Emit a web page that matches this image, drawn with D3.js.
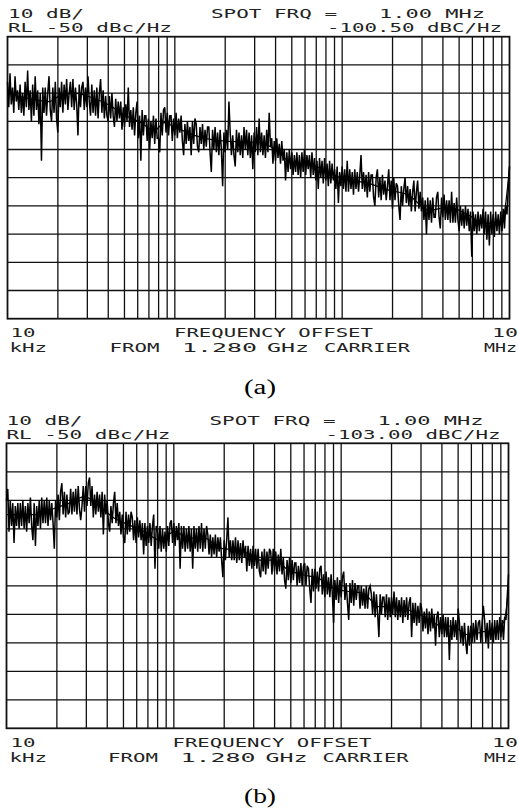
<!DOCTYPE html>
<html>
<head>
<meta charset="utf-8">
<script src="https://cdn.jsdelivr.net/npm/d3@7"></script>
<style>
  body { margin: 0; background: #fff; }
  text { white-space: pre; }
</style>
</head>
<body>
<div id="chart"></div>
<script>
// ---- data ----
// frequency span of the sweep (Hz) and the dB grid
const span_hz = [1e4, 1e7];
const db_ticks = [-50, -60, -70, -80, -90, -100, -110, -120, -130, -140, -150];
const freq_grid = [2e4,3e4,4e4,5e4,6e4,7e4,8e4,9e4,1e5,2e5,3e5,4e5,5e5,6e5,7e5,8e5,9e5,1e6,2e6,3e6,4e6,5e6,6e6,7e6,8e6,9e6];

// panel labels and spot readouts
const panel_names = ["(a)", "(b)"];
const spot_values = ["-100.50", "-103.00"];

// raw trace (a), dBc/Hz, 400 log-spaced points from 10 kHz to 10 MHz
const trace_a = [
  -66,-75,-63,-74,-68,-77,-64,-73,-69,-76,
  -67,-77,-70,-78,-66,-75,-62,-76,-69,-80,
  -67,-78,-64,-76,-69,-81,-70,-94,-68,-77,
  -68,-78,-70,-64,-76,-80,-68,-77,-66,-79,
  -84,-68,-75,-66,-77,-67,-74,-65,-76,-70,
  -66,-75,-65,-76,-68,-74,-85,-67,-75,-68,
  -66,-76,-68,-75,-64,-73,-78,-67,-77,-69,
  -78,-68,-79,-70,-65,-77,-69,-79,-71,-78,
  -80,-71,-79,-70,-78,-82,-72,-80,-73,-79,
  -73,-83,-75,-82,-74,-80,-68,-82,-76,-83,
  -75,-85,-77,-73,-86,-78,-94,-76,-85,-78,
  -78,-87,-79,-90,-80,-86,-78,-88,-79,-86,
  -86,-91,-77,-85,-76,-75,-84,-77,-85,-78,
  -78,-87,-79,-85,-77,-86,-79,-84,-78,-87,
  -92,-81,-88,-80,-87,-82,-92,-80,-88,-79,
  -81,-89,-91,-82,-88,-81,-90,-83,-89,-82,
  -82,-91,-98,-83,-90,-82,-91,-84,-92,-83,
  -90,-103,-84,-91,-83,-90,-73,-84,-92,-85,
  -92,-96,-83,-91,-84,-92,-85,-93,-82,-90,
  -83,-92,-84,-93,-85,-97,-84,-91,-82,-92,
  -79,-91,-84,-92,-85,-93,-83,-91,-77,-89,
  -86,-95,-87,-94,-86,-93,-88,-95,-87,-94,
  -90,-101,-91,-98,-90,-97,-91,-99,-92,-98,
  -91,-99,-92,-100,-91,-98,-90,-99,-92,-97,
  -92,-100,-91,-99,-93,-101,-94,-104,-93,-100,
  -94,-102,-93,-101,-95,-103,-94,-102,-95,-101,
  -97,-104,-96,-109,-98,-103,-96,-104,-97,-105,
  -94,-105,-97,-104,-98,-106,-97,-104,-98,-105,
  -99,-92,-104,-98,-105,-99,-107,-98,-105,-99,
  -99,-107,-110,-100,-97,-107,-100,-108,-99,-106,
  -101,-108,-103,-97,-108,-101,-111,-100,-108,-102,
  -103,-110,-115,-103,-110,-104,-100,-109,-103,-110,
  -104,-112,-105,-101,-112,-105,-101,-111,-105,-112,
  -107,-115,-108,-120,-107,-115,-108,-116,-107,-114,
  -114,-107,-105,-114,-118,-107,-114,-106,-115,-108,
  -115,-108,-116,-105,-116,-109,-116,-107,-115,-119,
  -110,-117,-111,-118,-110,-117,-111,-119,-112,-128,
  -112,-119,-113,-120,-112,-119,-113,-118,-111,-120,
  -112,-122,-113,-124,-112,-120,-113,-121,-112,-119,
  -113,-120,-112,-119,-111,-118,-110,-113,-104,-96
];
// smoothed trace (a)
const smooth_a_hz = [1e4,1.35e4,1.78e4,2.04e4,2.51e4,3.09e4,4.07e4,5e4,6.15e4,7.57e4,8.67e4,9.95e4,1.31e5,1.73e5,2.44e5,3.16e5,3.9e5,5.13e5,6.3e5,7.76e5,1.01e6,1.44e6,1.9e6,2.5e6,3.3e6,4.35e6,5.7e6,7.0e6,8.6e6,9.2e6,1e7];
const smooth_a_db = [-70,-72,-73,-71,-70,-71.3,-74.3,-77.8,-80.2,-83.2,-80.5,-82,-85,-86.7,-87.3,-87.5,-89.6,-95,-95,-97.3,-100.3,-102,-104.4,-106.2,-111.5,-110.4,-113.3,-116.2,-116.2,-113.9,-96];

// raw trace (b)
const trace_b = [
  -70,-66,-81,-70,-79,-71,-85,-72,-79,-71,
  -80,-71,-79,-70,-80,-72,-81,-71,-78,-69,
  -79,-84,-71,-86,-72,-79,-70,-80,-69,-78,
  -70,-78,-69,-79,-70,-77,-71,-78,-87,-70,
  -76,-68,-77,-67,-64,-75,-67,-76,-68,-75,
  -74,-66,-75,-67,-74,-66,-75,-65,-73,-77,
  -72,-65,-74,-65,-72,-64,-62,-72,-65,-76,
  -68,-75,-67,-74,-68,-76,-67,-82,-68,-75,
  -70,-78,-81,-72,-78,-71,-67,-78,-71,-79,
  -74,-82,-75,-83,-85,-74,-82,-75,-81,-74,
  -76,-84,-77,-85,-76,-83,-77,-84,-78,-89,
  -78,-86,-79,-85,-78,-86,-79,-75,-94,-79,
  -80,-87,-79,-88,-80,-87,-81,-88,-79,-86,
  -78,-77,-85,-78,-86,-79,-84,-78,-94,-79,
  -87,-79,-88,-80,-87,-79,-88,-80,-94,-79,
  -87,-80,-88,-79,-87,-78,-88,-80,-87,-79,
  -82,-89,-82,-90,-83,-89,-82,-90,-83,-88,
  -83,-91,-97,-84,-91,-84,-76,-90,-84,-91,
  -84,-91,-83,-92,-84,-91,-85,-92,-84,-90,
  -86,-95,-86,-93,-87,-94,-86,-93,-87,-94,
  -87,-95,-97,-88,-95,-87,-96,-88,-94,-87,
  -88,-96,-87,-95,-88,-96,-89,-95,-87,-96,
  -90,-98,-101,-91,-98,-90,-99,-91,-98,-92,
  -92,-100,-93,-99,-92,-100,-93,-92,-100,-93,
  -94,-101,-106,-94,-102,-94,-101,-95,-102,-94,
  -93,-103,-96,-104,-95,-103,-97,-104,-96,-103,
  -113,-98,-105,-97,-106,-98,-104,-97,-95,-105,
  -99,-106,-112,-99,-106,-98,-107,-99,-105,-100,
  -100,-108,-100,-107,-101,-108,-100,-108,-101,-100,
  -103,-110,-102,-111,-103,-110,-118,-103,-110,-104,
  -104,-111,-103,-112,-104,-111,-104,-110,-102,-111,
  -104,-112,-105,-111,-104,-113,-105,-111,-104,-112,
  -106,-104,-118,-106,-113,-106,-114,-107,-113,-106,
  -108,-116,-109,-115,-108,-117,-109,-116,-108,-115,
  -110,-121,-111,-109,-118,-111,-117,-110,-118,-111,
  -118,-111,-126,-112,-119,-111,-118,-112,-119,-108,
  -113,-120,-114,-121,-113,-120,-124,-114,-121,-114,
  -120,-113,-120,-112,-119,-113,-112,-120,-113,-107,
  -112,-120,-113,-122,-112,-119,-113,-120,-112,-119,
  -112,-119,-111,-118,-112,-119,-111,-112,-104,-96
];
// smoothed trace (b)
const smooth_b_hz = [1e4,1.57e4,1.94e4,2.38e4,2.92e4,3.6e4,4.42e4,5.43e4,6.68e4,8.22e4,1.01e5,1.24e5,1.53e5,1.88e5,2.31e5,3.04e5,3.21e5,3.94e5,4.85e5,5.96e5,7.33e5,9.01e5,1.11e6,1.36e6,1.67e6,2.06e6,2.53e6,3.11e6,3.82e6,4.7e6,5.78e6,7.1e6,8.73e6,9.61e6,1e7];
const smooth_b_db = [-75,-75,-72.8,-71,-68.7,-72.2,-76.3,-78.7,-81,-83.9,-81,-83.3,-83.3,-86.8,-87.4,-89.8,-91,-91,-94.5,-96.2,-97.4,-100.9,-102,-102.6,-107.3,-107.3,-108.5,-110.8,-113.8,-114.4,-117.3,-116.1,-115.5,-110,-100];

const svg = d3.select("#chart").append("svg")
    .attr("width", 518)
    .attr("height", 809)
;

const mono = "DejaVu Sans Mono, monospace";

// one text item stretched to the width it has on the plotter output
function draw_text(g, str, x, y, len){
    g.append("text")
        .attr("x", x)
        .attr("y", y)
        .attr("textLength", len)
        .attr("lengthAdjust", "spacingAndGlyphs")
        .attr("font-family", mono)
        .attr("font-size", 11.5)
        .attr("fill", "#222")
        .text(str)
    ;
}

function draw_panel(box, trace, smooth_hz, smooth_db, spot, name, shift){
    const g = svg.append("g");

    const x = d3.scaleLog().domain(span_hz).range([box.left, box.right]);
    const y = d3.scaleLinear().domain([-50, -150]).range([box.top, box.bottom]);

    // horizontal grid (10 dB/div)
    g.selectAll("line.h")
        .data(db_ticks.slice(1, -1))
        .enter()
        .append("line")
        .attr("x1", box.left).attr("x2", box.right)
        .attr("y1", d => y(d)).attr("y2", d => y(d))
        .attr("stroke", "#111")
        .attr("stroke-width", 1.3)
    ;
    // vertical log grid
    g.selectAll("line.v")
        .data(freq_grid)
        .enter()
        .append("line")
        .attr("x1", d => x(d)).attr("x2", d => x(d))
        .attr("y1", box.top).attr("y2", box.bottom)
        .attr("stroke", "#111")
        .attr("stroke-width", 1.3)
    ;
    // frame
    g.append("rect")
        .attr("x", box.left).attr("y", box.top)
        .attr("width", box.right - box.left)
        .attr("height", box.bottom - box.top)
        .attr("fill", "none")
        .attr("stroke", "#111")
        .attr("stroke-width", 1.8)
    ;

    // raw trace, points spread evenly on the log axis
    const n = trace.length;
    const lg0 = Math.log10(span_hz[0]), lg1 = Math.log10(span_hz[1]);
    const raw_line = d3.line()
        .x((d, i) => x(Math.pow(10, lg0 + (lg1 - lg0) * i / (n - 1))))
        .y(d => y(d))
    ;
    g.append("path")
        .attr("d", raw_line(trace))
        .attr("fill", "none")
        .attr("stroke", "#000")
        .attr("stroke-width", 1.5)
    ;
    // smoothed trace
    const sm_line = d3.line()
        .x((d, i) => x(smooth_hz[i]))
        .y(d => y(d))
        .curve(d3.curveMonotoneX)
    ;
    g.append("path")
        .attr("d", sm_line(smooth_db))
        .attr("fill", "none")
        .attr("stroke", "#000")
        .attr("stroke-width", 1.2)
    ;

    // header
    const t1 = box.top - 18.4, t2 = box.top - 4.3;
    draw_text(g, "10 dB/", 8 + shift, t1, 76);
    draw_text(g, "RL -50 dBc/Hz", 8 + shift, t2, 164);
    draw_text(g, "SPOT FRQ =", 211 + shift, t1, 126);
    draw_text(g, "1.00 MHz", 379 + shift, t1, 106);
    draw_text(g, spot + " dBC/Hz", 327 + shift, t2, 175);

    // footer
    const b1 = box.bottom + 18.5, b2 = box.bottom + 33.2;
    draw_text(g, "10", 10.5, b1, 25);
    draw_text(g, "kHz", 9.5, b2, 37.5);
    draw_text(g, "FREQUENCY OFFSET", 174 + shift, b1, 199);
    draw_text(g, "FROM", 109.5 + shift, b2, 50);
    draw_text(g, "1.280", 182 + shift, b2, 75);
    draw_text(g, "GHz", 267 + shift, b2, 42);
    draw_text(g, "CARRIER", 324 + shift, b2, 86);
    draw_text(g, "10", 492, b1, 26);
    draw_text(g, "MHz", 484, b2, 33);

    // caption
    g.append("text")
        .attr("x", 244)
        .attr("y", box.bottom + 75)
        .attr("textLength", 32)
        .attr("lengthAdjust", "spacingAndGlyphs")
        .attr("font-family", "Liberation Serif, Times New Roman, serif")
        .attr("font-size", 20)
        .attr("fill", "#000")
        .text(name)
    ;
}

draw_panel({left: 7.5, right: 509.5, top: 36.7, bottom: 318.7},
    trace_a, smooth_a_hz, smooth_a_db, spot_values[0], panel_names[0], 0);
draw_panel({left: 6.5, right: 508.5, top: 443.3, bottom: 728.3},
    trace_b, smooth_b_hz, smooth_b_db, spot_values[1], panel_names[1], -1.5);
</script>
</body>
</html>
